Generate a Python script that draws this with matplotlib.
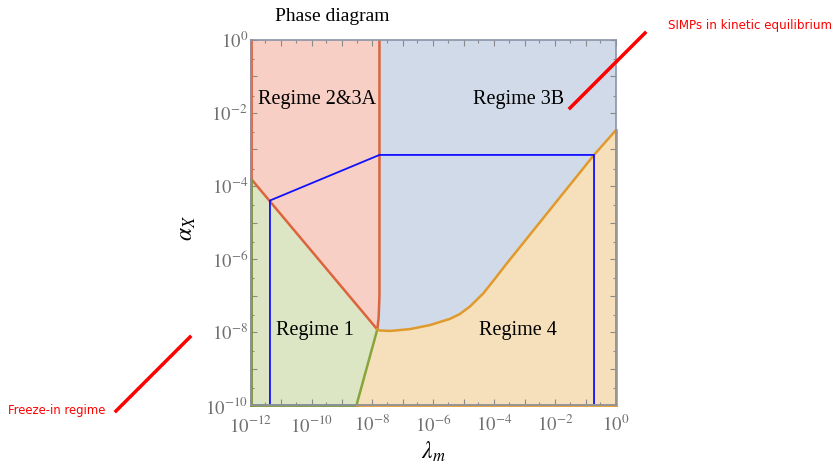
import matplotlib
matplotlib.use("Agg")
import matplotlib.pyplot as plt
from matplotlib.ticker import FixedLocator, FuncFormatter

plt.rcParams['mathtext.fontset'] = 'stix'
plt.rcParams['font.family'] = ['Liberation Serif', 'DejaVu Serif']

# limites dos eixos
lam_lim = [1e-12, 1.0]
alpha_lim = [1e-10, 1.0]

# ponto triplo (quina das regioes)
kink_lam, kink_alpha = 1.445e-8, 1.175e-8

# fronteira 2&3A / 1 (reta diagonal)
diag_lam = [1e-12, kink_lam]
diag_alpha = [1.62e-4, kink_alpha]

# fronteira 2&3A / 3B (quase vertical)
vert_lam = [1.7e-8, 1.7e-8, 1.6e-8, kink_lam]
vert_alpha = [1.0, 1e-7, 2.5e-8, kink_alpha]

# fronteira 1 / 4
green_lam = [kink_lam, 3.0e-9]
green_alpha = [kink_alpha, 1e-10]

# fronteira 3B / 4
orange_lam = [kink_lam, 1.78e-8, 3.8e-8, 1.7e-7, 7.8e-7, 3.55e-6, 7.4e-6, 1.6e-5,
              4.4e-5, 1.2e-4, 2.6e-4, 0.19, 1.0]
orange_alpha = [kink_alpha, 1.10e-8, 1.07e-8, 1.20e-8, 1.55e-8, 2.3e-8, 3.1e-8, 5.0e-8,
                1.15e-7, 3.3e-7, 7.6e-7, 7.1e-4, 3.4e-3]

# caminho azul
blue_lam = [4.3e-12, 4.3e-12, 1.7e-8, 0.19, 0.19]
blue_alpha = [1e-10, 4.0e-5, 7.1e-4, 7.1e-4, 1e-10]

decades = list(range(-12, 1))
alpha_decades = list(range(-10, 1))

c_red, c_orange, c_green, c_blue = '#dc643c', '#e09a2c', '#86a53a', '#1010ff'
f_red, f_blue, f_green, f_tan = '#f8cfc4', '#d1dae9', '#dde6c4', '#f6e0bb'

fig = plt.figure(figsize=(8.35, 4.65), dpi=100)
ax = fig.add_axes([0.3002, 0.129, 0.4375, 0.785])
ax.set_xscale('log')
ax.set_yscale('log')
ax.set_xlim(lam_lim)
ax.set_ylim(alpha_lim)

# regioes
reg23_x = [lam_lim[0], vert_lam[0]] + vert_lam[1:] + diag_lam[::-1]
reg23_y = [alpha_lim[1], vert_alpha[0]] + vert_alpha[1:] + diag_alpha[::-1]
ax.fill(reg23_x, reg23_y, color=f_red, lw=0)

reg3b_x = vert_lam + orange_lam[1:] + [lam_lim[1]]
reg3b_y = vert_alpha + orange_alpha[1:] + [alpha_lim[1]]
ax.fill(reg3b_x, reg3b_y, color=f_blue, lw=0)

reg1_x = diag_lam + green_lam[1:] + [lam_lim[0]]
reg1_y = diag_alpha + green_alpha[1:] + [alpha_lim[0]]
ax.fill(reg1_x, reg1_y, color=f_green, lw=0)

reg4_x = orange_lam + [lam_lim[1]] + green_lam[::-1]
reg4_y = orange_alpha + [alpha_lim[0]] + green_alpha[::-1]
ax.fill(reg4_x, reg4_y, color=f_tan, lw=0)

# fronteiras
ax.plot(diag_lam, diag_alpha, color=c_red, lw=1.8)
ax.plot(vert_lam, vert_alpha, color=c_red, lw=1.8)
ax.plot(green_lam, green_alpha, color=c_green, lw=1.8)
ax.plot(orange_lam, orange_alpha, color=c_orange, lw=1.8)
ax.plot(blue_lam, blue_alpha, color=c_blue, lw=1.3)

# moldura
for s in ax.spines.values():
    s.set_color('#8a93a8')
    s.set_linewidth(1.2)
ax.plot([lam_lim[0], lam_lim[0]], [alpha_lim[0], diag_alpha[0]], color='#7d9035', lw=2, clip_on=False)
ax.plot([lam_lim[0], lam_lim[0]], [diag_alpha[0], alpha_lim[1]], color=c_red, lw=2, clip_on=False)
ax.plot([lam_lim[0], green_lam[1]], [alpha_lim[0], alpha_lim[0]], color='#7d9035', lw=2, clip_on=False)
ax.plot([green_lam[1], lam_lim[1]], [alpha_lim[0], alpha_lim[0]], color=c_orange, lw=2, clip_on=False)
ax.plot([lam_lim[1], lam_lim[1]], [alpha_lim[0], orange_alpha[-1]], color=c_orange, lw=2, clip_on=False)

def fmt(v, pos):
    import math
    e = int(round(math.log10(v)))
    return r'$10^{%d}$' % e if e % 2 == 0 else ''

ax.xaxis.set_major_locator(FixedLocator([10.0 ** e for e in decades]))
ax.yaxis.set_major_locator(FixedLocator([10.0 ** e for e in alpha_decades]))
ax.xaxis.set_major_formatter(FuncFormatter(fmt))
ax.yaxis.set_major_formatter(FuncFormatter(fmt))
ax.xaxis.set_minor_locator(FixedLocator([3 * 10.0 ** e for e in decades[:-1]]))
ax.yaxis.set_minor_locator(FixedLocator([3 * 10.0 ** e for e in alpha_decades[:-1]]))
ax.tick_params(which='both', direction='in', top=True, right=True, colors='#8a8a8a',
               labelcolor='#707070', labelsize=13.5, width=0.8)
ax.tick_params(which='major', length=4)
ax.tick_params(axis='x', which='major', pad=7)
ax.tick_params(axis='y', which='major', pad=2)
ax.tick_params(which='minor', length=2)

# textos das regioes
for txt, x, y in [('Regime 2&3A', 0.181, 0.836), ('Regime 3B', 0.734, 0.836),
                  ('Regime 1', 0.176, 0.2055), ('Regime 4', 0.732, 0.2055)]:
    ax.text(x, y, txt, transform=ax.transAxes, ha='center', va='center', fontsize=14.5)

fig.text(0.398, 0.965, 'Phase diagram', ha='center', va='center', fontsize=14)
fig.text(0.224, 0.510, r'$\alpha_X$', rotation=90, ha='center', va='center', fontsize=17)
fig.text(0.5186, 0.028, r'$\lambda_m$', ha='center', va='center', fontsize=17)

# anotacoes em vermelho
fig.text(0.8, 0.946, 'SIMPs in kinetic equilibrium', color='red', ha='left', va='center',
         fontsize=8.6, family='DejaVu Sans')
fig.add_artist(plt.Line2D([570 / 835, 645 / 835], [1 - 108 / 465, 1 - 33 / 465], color='red', lw=2.5))
fig.text(0.0096, 0.118, 'Freeze-in regime', color='red', ha='left', va='center',
         fontsize=8.4, family='DejaVu Sans')
fig.add_artist(plt.Line2D([116 / 835, 190 / 835], [1 - 411 / 465, 1 - 337 / 465], color='red', lw=2.5))

fig.savefig('out.png', dpi=100)
